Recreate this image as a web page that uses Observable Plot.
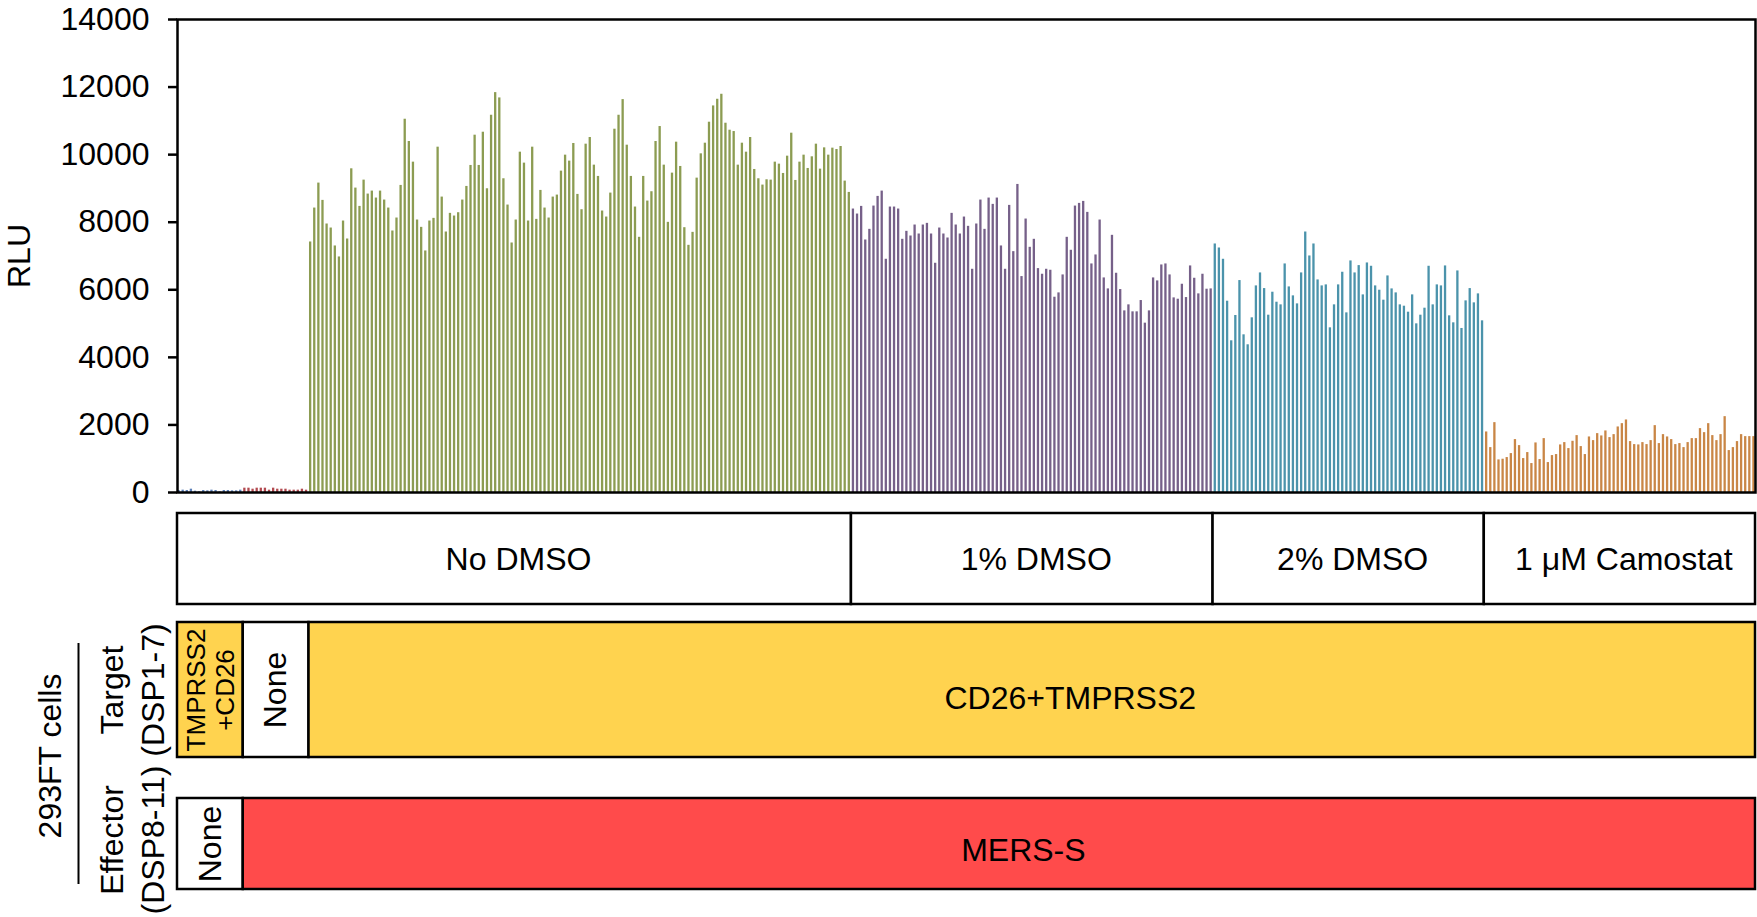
<!DOCTYPE html>
<html>
<head>
<meta charset="utf-8">
<script src="https://cdn.jsdelivr.net/npm/d3@7"></script>
<script src="https://cdn.jsdelivr.net/npm/@observablehq/plot@0.6"></script>
<style>
  html, body { margin: 0; padding: 0; background: #fff; }
  #chart { width: 1757px; }
  #chart svg { display: block; overflow: visible; }
</style>
</head>
<body>
<div id="chart"></div>
<script>
// ---------------- DATA ----------------
// RLU per well (384-well plate, read left to right)
const ctrlEffectorNone = [59, 69, 59, 98, 39, 20, 59, 49, 69, 59, 20, 59, 59, 49, 49, 69];
const ctrlTargetNone = [128, 128, 98, 128, 128, 128, 69, 128, 98, 98, 98, 69, 69, 69, 98, 69];
const noDmso = [
  7415, 8419, 9158, 8646, 7947, 7828, 7297, 6972, 8035, 7503, 9581, 9010, 8468, 9246, 8833,
  8921, 8715, 8921, 8656, 8419, 7740, 8124, 9089, 11048, 10389, 9778, 8065, 7848, 7149, 8035, 8114,
  10221, 8744, 7710, 8262, 8183, 8281, 8656, 9059, 9680, 10576, 9680, 10664, 8990, 11166, 11836, 11679,
  9286, 8508, 7385, 8065, 10073, 9749, 8035, 10221, 8084, 8941, 8419, 8124, 8744, 8803, 9512, 9985, 9808,
  10330, 8823, 8370, 10310, 10507, 9689, 9355, 8331, 8153, 8862, 10753, 11166, 11629, 10280, 9355, 8449,
  7553, 9355, 8626, 8902, 10389, 10832, 9689, 7996, 9453, 10369, 9650, 7838, 7316, 7700, 9305, 10024,
  10339, 10960, 11442, 11639, 11787, 10930, 10723, 10684, 9689, 10339, 10073, 10507, 9561, 9286, 9099, 9256,
  9246, 9778, 9719, 9443, 9955, 10635, 9236, 9778, 9985, 9591, 9936, 10310, 9571, 10201, 9985, 10192,
  10152, 10241, 9217, 8882
];
const dmso1 = [
  8390, 8242, 8468, 7474, 7789, 8478, 8764, 8921, 6903, 8449, 8449, 8390, 7494, 7730, 7592, 7917,
  7651, 7917, 7966, 7651, 6785, 7828, 7651, 7533, 8262, 7917, 7651, 8153, 7878,
  6607, 7947, 8656, 7789, 8715, 8528, 8715, 7297, 6607, 8498, 7129, 9118, 6391, 8094, 7257, 7494,
  6627, 6460, 6607, 6578, 5780, 5908, 6440, 7553, 7169, 8478, 8557, 8616, 8291, 6765, 7031, 8065,
  6351, 6026, 7612, 6489, 6007, 5376, 5554, 5347, 5347, 5682, 5012, 5376, 6351, 6263, 6735, 6765,
  6440, 5760, 5721, 6164, 5770, 6706, 6341, 5879, 6460, 6017, 6026
];
const dmso2 = [
  7356, 7237, 6903, 5662, 4490, 5239, 6273, 4667, 4372, 5170, 6115, 6499, 6036, 5248, 5928, 5632,
  5554, 6765, 6085, 5820, 5583, 6499, 7710, 7001, 7356, 6292, 6115, 6145, 4874, 5554, 6145, 6519,
  5317, 6854, 6499, 6716, 5849, 6794,
  6696, 6115, 5987, 5692, 6410, 6026, 5908, 5554, 5514, 5337, 5849, 4992, 5248, 5455, 6696, 5554,
  6145, 6115, 6706, 5229, 5022, 6558, 4855, 5672, 6036, 5613, 5879, 5081
];
const camostat = [
  1792, 1329, 2068, 965, 985, 1034, 1152, 1566, 1388, 1004, 1182, 857, 1467, 975, 1595, 886,
  1093, 1123, 1408, 1477, 1300,
  1516, 1684, 1359, 1123, 1644, 1536, 1743, 1674, 1822, 1625, 1713, 1940, 2038, 2147, 1507, 1418,
  1408, 1477, 1418, 1536, 1979, 1448, 1713, 1644, 1566, 1418, 1448, 1329, 1477, 1595, 1595, 1891,
  1772, 2038, 1684, 1536, 1713, 2245, 1241, 1329, 1507, 1713, 1654, 1654, 1654
];

const seriesNames = ["Effector none", "Target none", "No DMSO", "1% DMSO", "2% DMSO", "Camostat"];
const seriesValues = [ctrlEffectorNone, ctrlTargetNone, noDmso, dmso1, dmso2, camostat];
const seriesColors = ["#5B7FB8", "#B24A50", "#8C9C52", "#766089", "#4B93AB", "#C98646"];

const yTicks = [0, 2000, 4000, 6000, 8000, 10000, 12000, 14000];

// annotation rows: labels and number of wells each box spans
const treatmentLabels = ["No DMSO", "1% DMSO", "2% DMSO", "1 \u03BCM Camostat"];
const treatmentWells = [164, 88, 66, 66];
const targetLabels = ["TMPRSS2\n+CD26", "None", "CD26+TMPRSS2"];
const targetWells = [16, 16, 352];
const targetFills = ["#FFD34F", "#FFFFFF", "#FFD34F"];
const effectorLabels = ["None", "MERS-S"];
const effectorWells = [16, 368];
const effectorFills = ["#FFFFFF", "#FF4B4B"];

// ---------------- LAYOUT ----------------
const FONT = "'Liberation Sans', Arial, Helvetica, sans-serif";
const FS = 32;
const W = 1757, ML = 177, MR = 2;
const ANN_H = 417;
const rowTreat = [13, 104];
const rowTarget = [122, 257];
const rowEffector = [298, 389];
const bracket = [143, 384];
// label nudges (px) for wide boxes, per row
const treatNudge = { dx: 4, dy: 1 };
const targetNudge = { dx: 38, dy: 9 };
const effectorNudge = { dx: 24, dy: 7 };

// ---------------- BUILD ----------------
const wells = [];
seriesNames.forEach((name, s) => {
  seriesValues[s].forEach(v => wells.push({ well: wells.length, rlu: v, series: name }));
});
const nWells = wells.length;

function spans(labels, counts, extra) {
  let start = 0;
  return labels.map((label, i) => {
    const d = { label, x1: start, x2: start + counts[i], ...(extra ? extra(i) : {}) };
    start += counts[i];
    return d;
  });
}
const treatBoxes = spans(treatmentLabels, treatmentWells, () => ({ y1: rowTreat[0], y2: rowTreat[1], fill: "#FFFFFF" }));
const targetBoxes = spans(targetLabels, targetWells, i => ({ y1: rowTarget[0], y2: rowTarget[1], fill: targetFills[i], small: i === 0 }));
const effectorBoxes = spans(effectorLabels, effectorWells, i => ({ y1: rowEffector[0], y2: rowEffector[1], fill: effectorFills[i] }));
const allBoxes = [...treatBoxes, ...targetBoxes, ...effectorBoxes];
const mid = d => (d.x1 + d.x2) / 2;
const midY = d => (d.y1 + d.y2) / 2;
const isWide = d => (d.x2 - d.x1) > 40;

const barPlot = Plot.plot({
  width: W,
  height: 500,
  marginLeft: ML,
  marginRight: MR,
  marginTop: 19,
  marginBottom: 8,
  style: { fontFamily: FONT, fontSize: FS + "px", color: "#000", background: "#fff" },
  x: { type: "band", domain: d3.range(nWells), paddingInner: 0.44, paddingOuter: 0.1, axis: null },
  y: { domain: [0, 14000], axis: null },
  color: { domain: seriesNames, range: seriesColors },
  marks: [
    Plot.barY(wells, { x: "well", y: "rlu", fill: "series" }),
    Plot.axisY({ ticks: yTicks, tickSize: 9, tickPadding: 19, tickFormat: d => String(d), label: null, strokeWidth: 2.5, fontSize: FS }),
    Plot.frame({ stroke: "#000", strokeWidth: 2.5 }),
    Plot.text(["RLU"], { frameAnchor: "left", dx: -158, rotate: -90, fontSize: FS, textAnchor: "middle" })
  ]
});

const annPlot = Plot.plot({
  width: W,
  height: ANN_H,
  marginLeft: ML,
  marginRight: MR,
  marginTop: 0,
  marginBottom: 0,
  style: { fontFamily: FONT, fontSize: FS + "px", color: "#000", background: "#fff" },
  x: { domain: [0, nWells], axis: null },
  y: { domain: [0, ANN_H], range: [0, ANN_H], axis: null },
  color: { type: "identity" },
  marks: [
    Plot.rect(allBoxes, { x1: "x1", x2: "x2", y1: "y1", y2: "y2", fill: "fill", stroke: "#000", strokeWidth: 2.5 }),
    Plot.text(treatBoxes, { x: mid, y: midY, text: "label", fontSize: FS, ...treatNudge }),
    Plot.text(targetBoxes.filter(isWide), { x: mid, y: midY, text: "label", fontSize: FS, ...targetNudge }),
    Plot.text(effectorBoxes.filter(isWide), { x: mid, y: midY, text: "label", fontSize: FS, ...effectorNudge }),
    Plot.text(allBoxes.filter(d => !isWide(d) && !d.small), { x: mid, y: midY, text: "label", fontSize: FS, rotate: -90 }),
    Plot.text(allBoxes.filter(d => d.small), { x: mid, y: midY, text: "label", fontSize: 26, rotate: -90, lineHeight: 1.12 }),
    Plot.text(["Target\n(DSP1-7)"], { frameAnchor: "left", y: [(rowTarget[0] + rowTarget[1]) / 2], dx: -47, rotate: -90, fontSize: FS, lineHeight: 1.26, textAnchor: "middle" }),
    Plot.text(["Effector\n(DSP8-11)"], { frameAnchor: "left", y: [(rowEffector[0] + rowEffector[1]) / 2 - 4], dx: -47, rotate: -90, fontSize: FS, lineHeight: 1.26, textAnchor: "middle" }),
    Plot.text(["293FT cells"], { frameAnchor: "left", y: [(rowTarget[0] + rowEffector[1]) / 2], dx: -127, rotate: -90, fontSize: FS, textAnchor: "middle" }),
    Plot.ruleX([0], { y1: bracket[0], y2: bracket[1], dx: -99, stroke: "#000", strokeWidth: 2 })
  ]
});

const chart = document.getElementById("chart");
chart.appendChild(barPlot);
chart.appendChild(annPlot);
</script>
</body>
</html>
